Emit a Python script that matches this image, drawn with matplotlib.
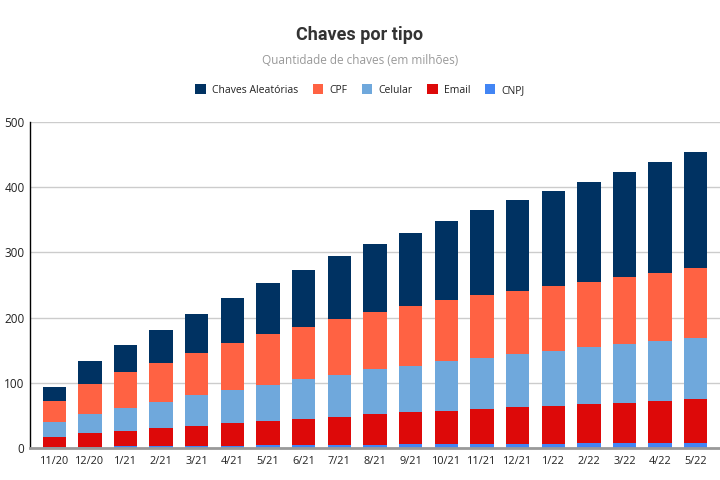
import matplotlib
matplotlib.use("Agg")
import matplotlib.pyplot as plt
import numpy as np

meses = ["11/20", "12/20", "1/21", "2/21", "3/21", "4/21", "5/21", "6/21", "7/21",
         "8/21", "9/21", "10/21", "11/21", "12/21", "1/22", "2/22", "3/22", "4/22", "5/22"]

cnpj = [1.0, 1.5, 2.5, 2.8, 3.1, 3.8, 4.1, 4.4, 4.6, 5.2, 5.5, 5.8, 6.0, 6.2, 6.8, 7.0, 7.2, 7.4, 7.6]
email = [15.8, 21.5, 24.0, 27.8, 30.6, 34.0, 37.7, 40.0, 42.8, 46.8, 49.1, 51.3, 53.2, 56.6, 57.5, 59.8, 62.2, 64.5, 67.4]
celular = [22.5, 29.0, 34.7, 40.4, 46.9, 51.0, 55.2, 61.2, 64.8, 68.9, 71.4, 76.1, 79.6, 81.1, 85.2, 87.8, 89.8, 92.9, 94.4]
cpf = [32.6, 46.0, 54.6, 60.0, 65.8, 72.9, 78.5, 80.6, 86.3, 87.8, 92.4, 93.3, 95.9, 97.4, 99.0, 100.5, 103.0, 104.1, 106.6]
aleatorias = [22.0, 36.2, 42.9, 49.6, 59.2, 68.3, 78.1, 86.8, 95.4, 104.6, 111.2, 121.5, 129.6, 139.3, 145.9, 153.1, 161.3, 169.9, 177.6]

series = [
    ("CNPJ", cnpj, "#4285F4"),
    ("Email", email, "#DD0909"),
    ("Celular", celular, "#6FA8DC"),
    ("CPF", cpf, "#FF6243"),
    ("Chaves Aleatórias", aleatorias, "#003262"),
]
yticks = [0, 100, 200, 300, 400, 500]

plt.rcParams['font.family'] = ['Open Sans', 'DejaVu Sans']

fig = plt.figure(figsize=(7.2, 4.8), dpi=100)
ax = fig.add_axes([30/720, 1-448/480, 690/720, (448-122)/480])

x = np.arange(len(meses))
bottom = np.zeros(len(meses))
handles = {}
for name, vals, col in series:
    v = np.array(vals)
    b = ax.bar(x, v, bottom=bottom, width=0.655, color=col, label=name, zorder=3)
    handles[name] = b
    bottom += v

ax.set_xlim(-0.68, len(meses) - 1 + 0.68)
ax.set_ylim(0, 500)
ax.set_yticks(yticks)
ax.set_yticklabels([str(t) for t in yticks], fontsize=8.5, color="#222222")
ax.set_xticks(x)
ax.set_xticklabels(meses, fontsize=7.8, color="#222222")
ax.tick_params(axis='both', length=0)
ax.tick_params(axis='y', pad=4)
ax.tick_params(axis='x', pad=6)
ax.grid(axis='y', color="#cccccc", linewidth=1, zorder=0)
for s in ["top", "right"]:
    ax.spines[s].set_visible(False)
ax.spines["left"].set_color("#000000")
ax.spines["left"].set_linewidth(1)
ax.spines["bottom"].set_color("#999999")
ax.spines["bottom"].set_linewidth(2)
ax.spines["bottom"].set_zorder(4)

fig.text(0.5, 1-35/480, "Chaves por tipo", ha="center", va="center",
         fontsize=13, fontweight="bold", color="#333333", family=["Roboto", "DejaVu Sans"])
fig.text(0.5, 1-61/480, "Quantidade de chaves (em milhões)", ha="center", va="center",
         fontsize=8.5, color="#999999")

order = ["Chaves Aleatórias", "CPF", "Celular", "Email", "CNPJ"]
fig.legend([handles[n] for n in order], order, loc="center", bbox_to_anchor=(0.5, 1-90/480),
           ncol=5, frameon=False, fontsize=7.5, handlelength=1.0, handleheight=1.1,
           handletextpad=0.6, columnspacing=1.4, labelcolor="#222222")

fig.savefig("out.png", dpi=100)
